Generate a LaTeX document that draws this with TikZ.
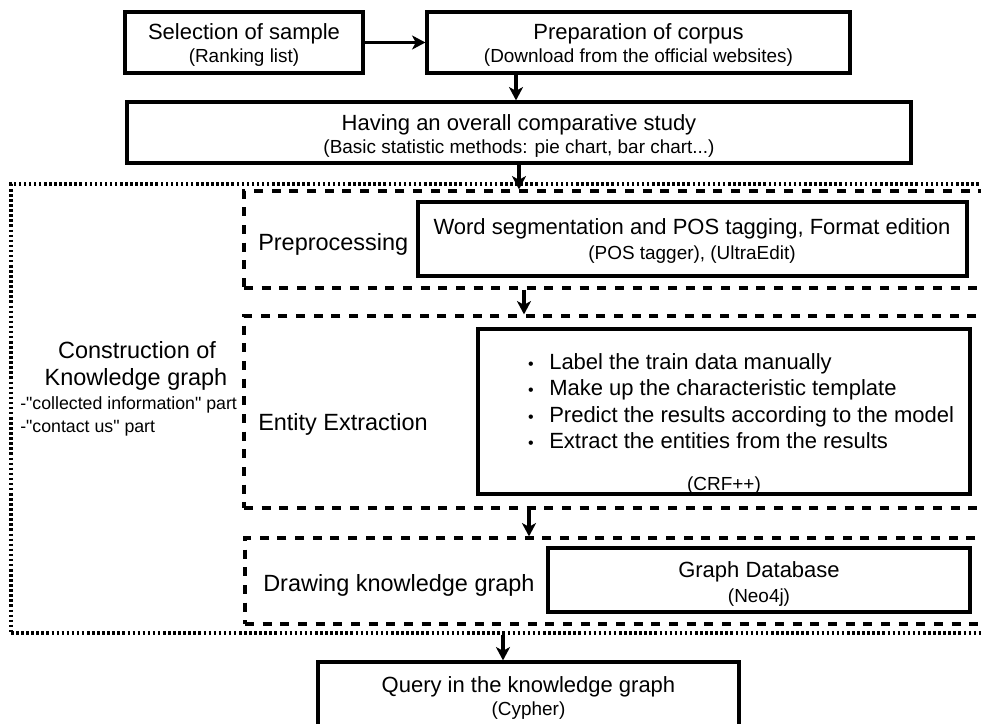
\documentclass[tikz,border=0pt]{standalone}
\usepackage{fontspec}
\setmainfont{Liberation Sans}[Ligatures=TeXOff]
\usetikzlibrary{arrows.meta,calc}
\begin{document}
\begin{tikzpicture}[x=0.75pt,y=-0.75pt,
  solidbox/.style={draw=black, line width=2.4pt, inner sep=0pt},
  groupbox/.style={draw=black, line width=2.4pt, dash pattern=on 6.75pt off 6.5pt, inner sep=0pt},
  outerbox/.style={draw=black, line width=2.4pt, dash pattern=on 1.9pt off 1.9pt, inner sep=0pt},
  title/.style={font=\fontsize{16.5}{18}\selectfont, anchor=base, inner sep=0pt},
  sub/.style={font=\fontsize{14.2}{16}\selectfont, anchor=base, inner sep=0pt},
  stage/.style={font=\fontsize{17.6}{20}\selectfont, anchor=base west, inner sep=0pt},
  note/.style={font=\fontsize{13.3}{15}\selectfont, anchor=base west, inner sep=0pt},
  item/.style={font=\fontsize{16.5}{18}\selectfont, anchor=base west, inner sep=0pt},
  dot/.style={font=\fontsize{12}{12}\selectfont, anchor=base, inner sep=0pt},
  arr/.style={-{Stealth[length=10pt,width=10.5pt,inset=2.8pt]}, line width=2.3pt}]
\useasboundingbox (0,0) rectangle (981,724);
\clip (0,0) rectangle (981,724);

% knowledge graph construction (dotted frame) and its three stages (dashed frames)
\node[outerbox, minimum width=741.75pt, minimum height=336.75pt] (kg) at (505.5,408.5) {};
\node[groupbox, minimum width=567pt, minimum height=72.75pt] (pre) at (622,239.5) {};
\node[groupbox, minimum width=567pt, minimum height=144pt] (ent) at (622,412) {};
\node[groupbox, minimum width=566.25pt, minimum height=64.5pt] (drw) at (622.5,581) {};

% process boxes
\node[solidbox, minimum width=178.5pt, minimum height=45.75pt] (sel) at (244,42.5) {};
\node[solidbox, minimum width=317.25pt, minimum height=45.75pt] (prep) at (638.5,42.5) {};
\node[solidbox, minimum width=588pt, minimum height=45.75pt] (cmp) at (519,132.5) {};
\node[solidbox, minimum width=411.75pt, minimum height=55.5pt] (seg) at (692.5,239) {};
\node[solidbox, minimum width=369pt, minimum height=123.75pt] (crf) at (724,411.5) {};
\node[solidbox, minimum width=316.5pt, minimum height=48pt] (gdb) at (759,580) {};
\node[solidbox, minimum width=315.75pt, minimum height=58.5pt] (qry) at (528.5,701) {};

% box texts
\node[title] (selT) at (244,40) {Selection of sample};
\node[sub] (selS) at (244,63) {(Ranking list)};
\node[title] (prepT) at (638.5,40) {Preparation of corpus};
\node[sub] (prepS) at (638.5,63) {(Download from the official websites)};
\node[title] (cmpT) at (519,130) {Having an overall comparative study};
\node[sub] (cmpS) at (519,153) {(Basic statistic methods: pie chart, bar chart...)};
\node[title] (segT) at (692,234) {Word segmentation and POS tagging, Format edition};
\node[sub] (segS) at (692,259) {(POS tagger), (UltraEdit)};
\node[item] (i1) at (549,369) {Label the train data manually};
\node[item] (i2) at (549,395.5) {Make up the characteristic template};
\node[item] (i3) at (549,422) {Predict the results according to the model};
\node[item] (i4) at (549,448.5) {Extract the entities from the results};
\node[dot] (d1) at (531,369) {•};
\node[dot] (d2) at (531,395.5) {•};
\node[dot] (d3) at (531,422) {•};
\node[dot] (d4) at (531,448.5) {•};
\node[sub] (crfS) at (724,490) {(CRF++)};
\node[title] (gdbT) at (759,577) {Graph Database};
\node[sub] (gdbS) at (759,602) {(Neo4j)};
\node[title] (qryT) at (528.5,692) {Query in the knowledge graph};
\node[sub] (qryS) at (528.5,715) {(Cypher)};

% stage labels
\node[stage] (preL) at (258,250) {Preprocessing};
\node[stage] (entL) at (258,430) {Entity Extraction};
\node[stage] (drwL) at (263,591) {Drawing knowledge graph};
\node[stage, anchor=base] (kgL1) at (137,358) {Construction of};
\node[stage, anchor=base] (kgL2) at (136,385) {Knowledge graph};
\node[note] (kgN1) at (20,409) {-"collected information" part};
\node[note] (kgN2) at (20,432) {-"contact us" part};

% connectors
\coordinate (x1) at (516,0);
\coordinate (x2) at (524,0);
\coordinate (x3) at (529,0);
\coordinate (x4) at (503,0);
\draw[arr] (sel.east) -- (prep.west |- sel.east);
\draw[arr] (prep.south -| x1) -- (cmp.north -| x1);
\draw[arr] (cmp.south) -- (pre.north -| cmp.south);
\draw[arr] (pre.south -| x2) -- (ent.north -| x2);
\draw[arr] (ent.south -| x3) -- (drw.north -| x3);
\draw[arr] (kg.south -| x4) -- (qry.north -| x4);
\end{tikzpicture}
\end{document}
